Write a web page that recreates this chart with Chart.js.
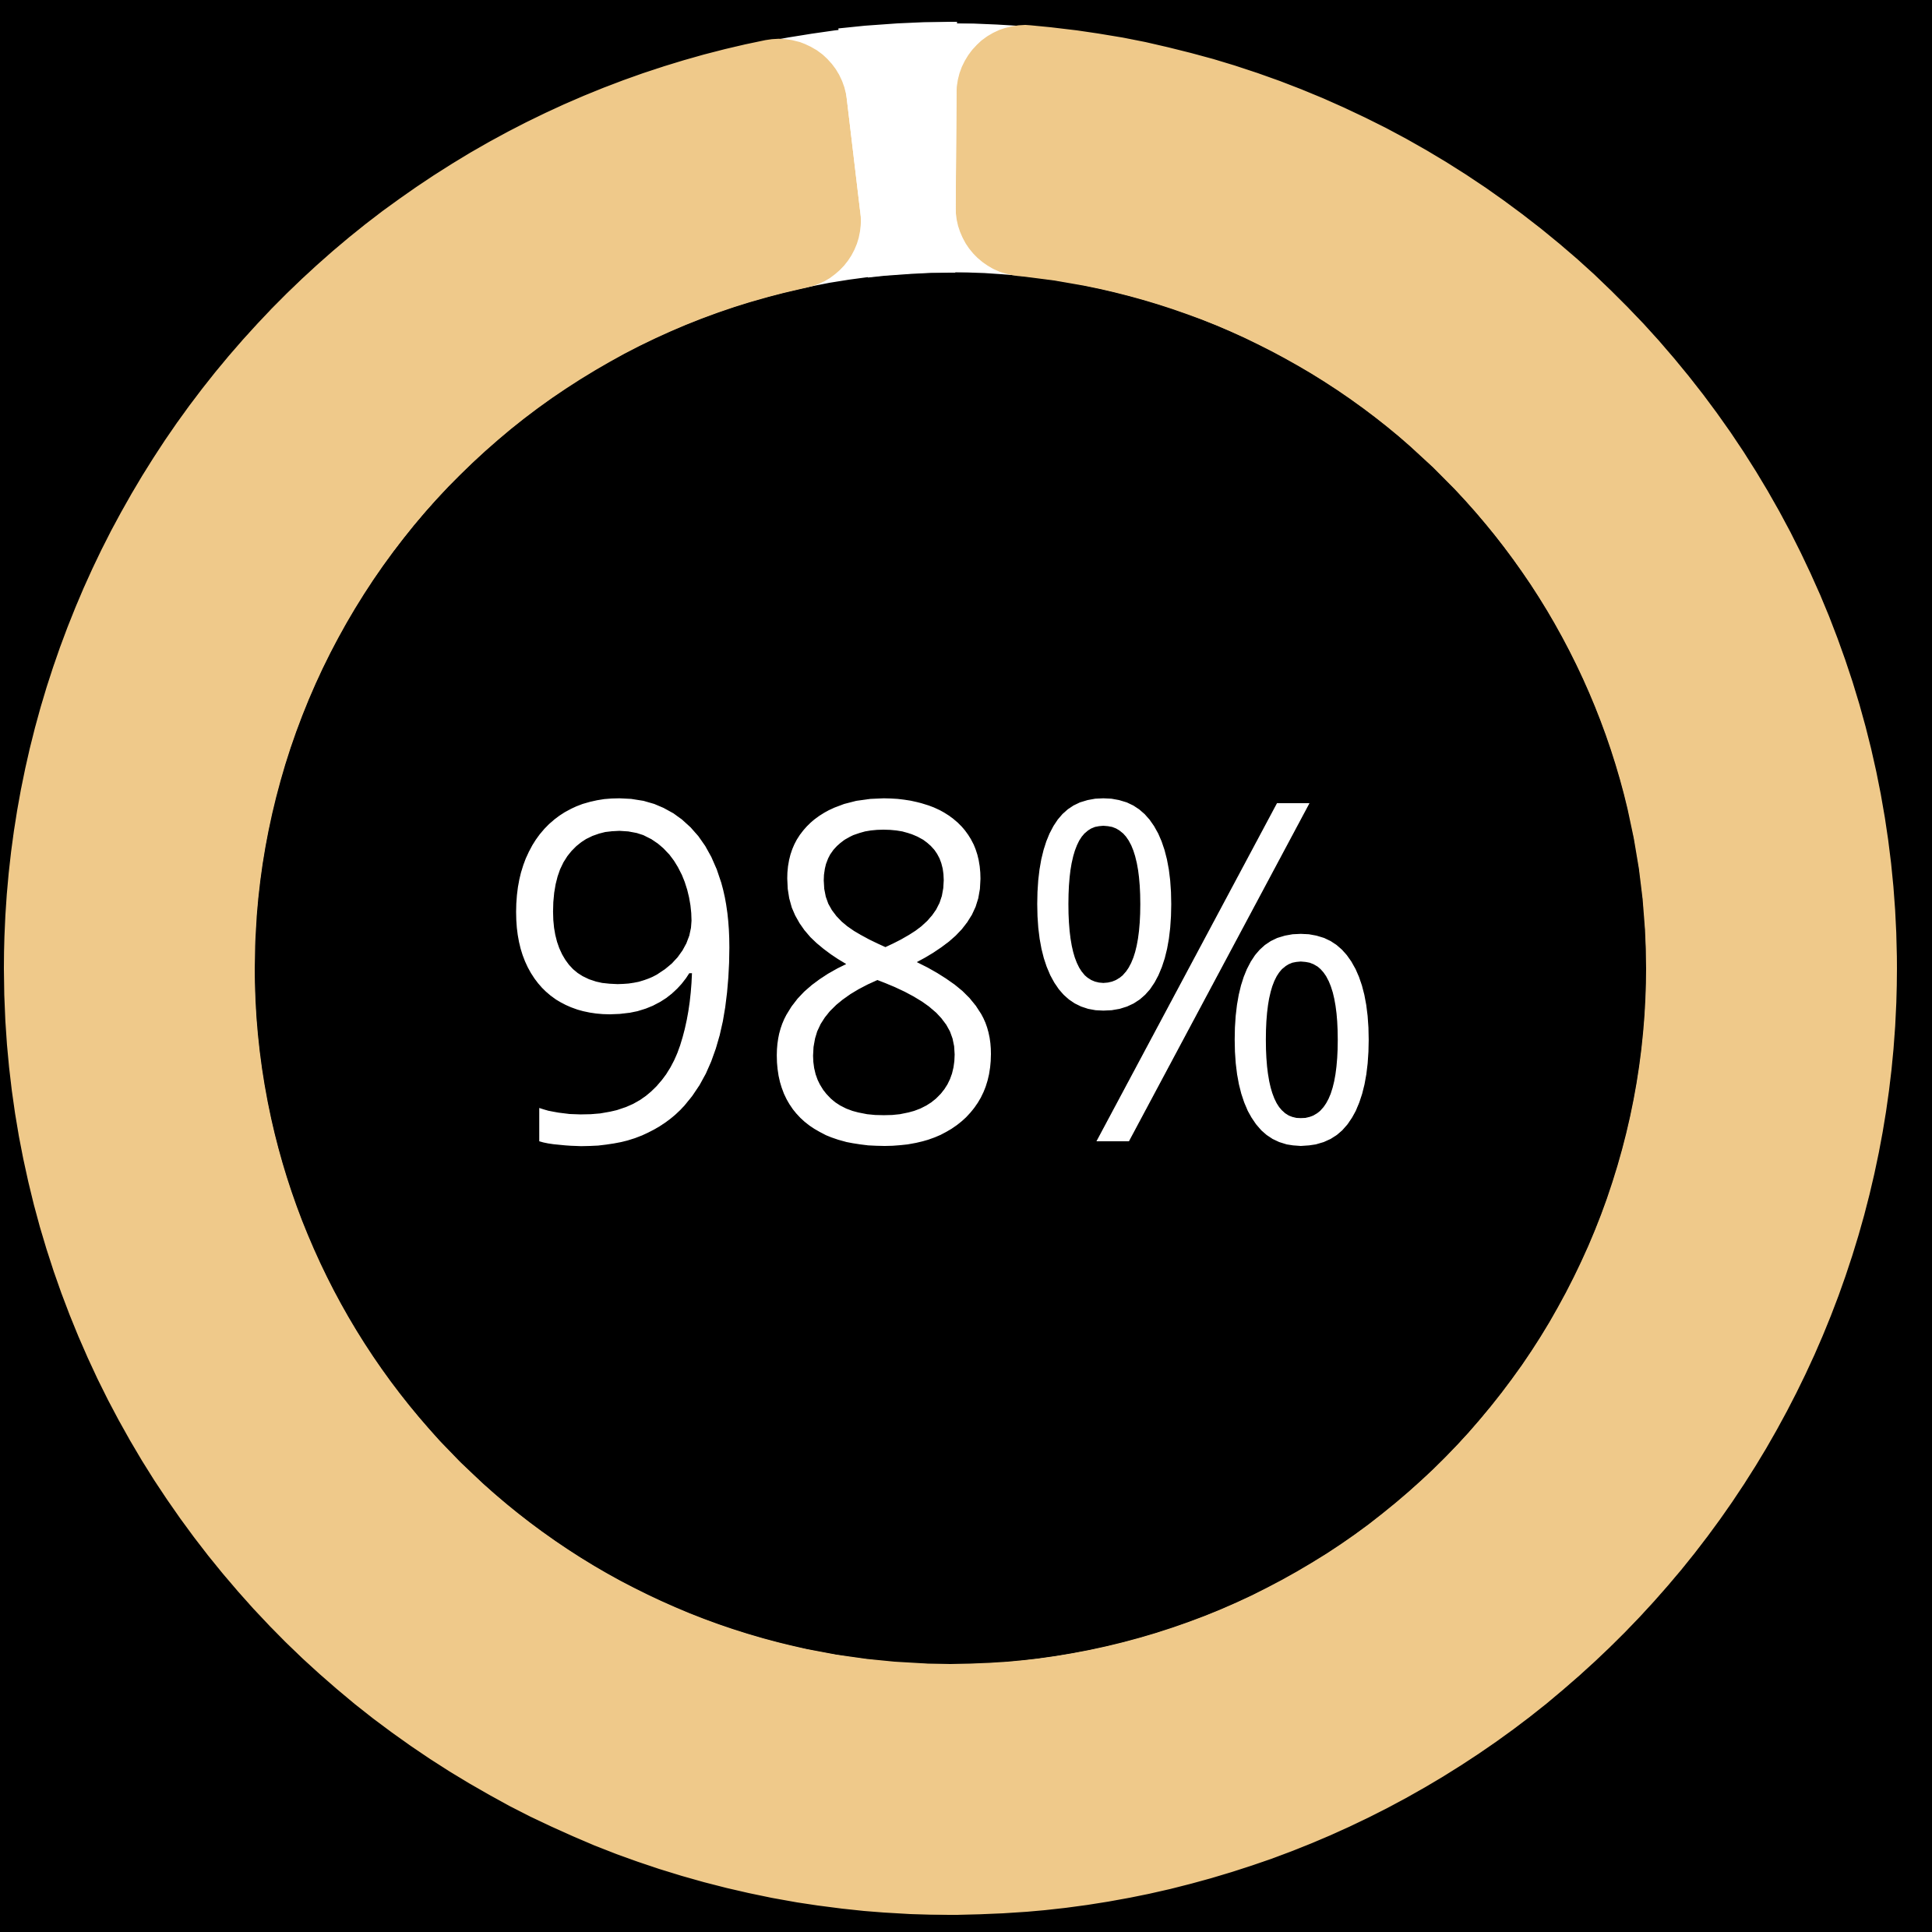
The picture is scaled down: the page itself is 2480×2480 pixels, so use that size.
<!DOCTYPE html>
<html>
<head>
<meta charset="utf-8">
<script src="https://cdn.jsdelivr.net/npm/chart.js@4"></script>
<style>
  html, body { margin: 0; padding: 0; background: #000; }
  body { width: 2480px; height: 2480px; position: relative; overflow: hidden; }
  .wrap { position: absolute; left: 5px; top: 28px; width: 2430px; height: 2430px; }
  canvas { display: block; }
</style>
</head>
<body>
<div class="wrap" id="wBack"><canvas id="back"></canvas></div>
<div class="wrap" id="wFront"><canvas id="front"></canvas></div>
<script>
// ---- data ----
const categories = ['Complete', 'Remaining'];
const values = [98, 2];
const centerLabel = '98%';
const colors = ['#EFC98A', '#FFFFFF'];

const OUTER = 1215;
const INNER = 893;

Chart.defaults.animation = false;

// backing white track (visible behind the rounded ends)
new Chart(document.getElementById('back'), {
  type: 'doughnut',
  data: {
    labels: ['Track'],
    datasets: [{
      data: [values.reduce((a, b) => a + b, 0)],
      backgroundColor: ['#FFFFFF'],
      borderWidth: 0,
      hoverOffset: 0,
      radius: OUTER - 2,
      cutout: INNER + 2
    }]
  },
  options: {
    responsive: true,
    maintainAspectRatio: false,
    events: [],
    layout: { padding: 0 },
    plugins: { legend: { display: false }, tooltip: { enabled: false } }
  }
});

const centerText = {
  id: 'centerText',
  afterDraw(chart) {
    const ctx = chart.ctx;
    ctx.save();
    ctx.fillStyle = '#FFFFFF';
    ctx.font = '608px "Open Sans"';
    ctx.textBaseline = 'alphabetic';
    ctx.textAlign = 'center';
    const m = ctx.measureText(centerLabel);
    const ink = m.actualBoundingBoxLeft + m.actualBoundingBoxRight;
    const sx = 1099 / ink;
    const inkCenter = (m.actualBoundingBoxRight - m.actualBoundingBoxLeft) / 2;
    const cx = 1210 - 5;
    const by = 1465 - 28;
    ctx.translate(cx, by);
    ctx.scale(sx, 1);
    ctx.fillText(centerLabel, -inkCenter, 0);
    ctx.restore();
  }
};

new Chart(document.getElementById('front'), {
  type: 'doughnut',
  data: {
    labels: categories,
    datasets: [{
      data: values,
      backgroundColor: colors,
      borderWidth: 0,
      borderRadius: [88, 0],
      hoverOffset: 0
    }]
  },
  options: {
    responsive: true,
    maintainAspectRatio: false,
    events: [],
    rotation: 0.4,
    cutout: INNER,
    layout: { padding: 0 },
    plugins: { legend: { display: false }, tooltip: { enabled: false } }
  },
  plugins: [centerText]
});
</script>
</body>
</html>
